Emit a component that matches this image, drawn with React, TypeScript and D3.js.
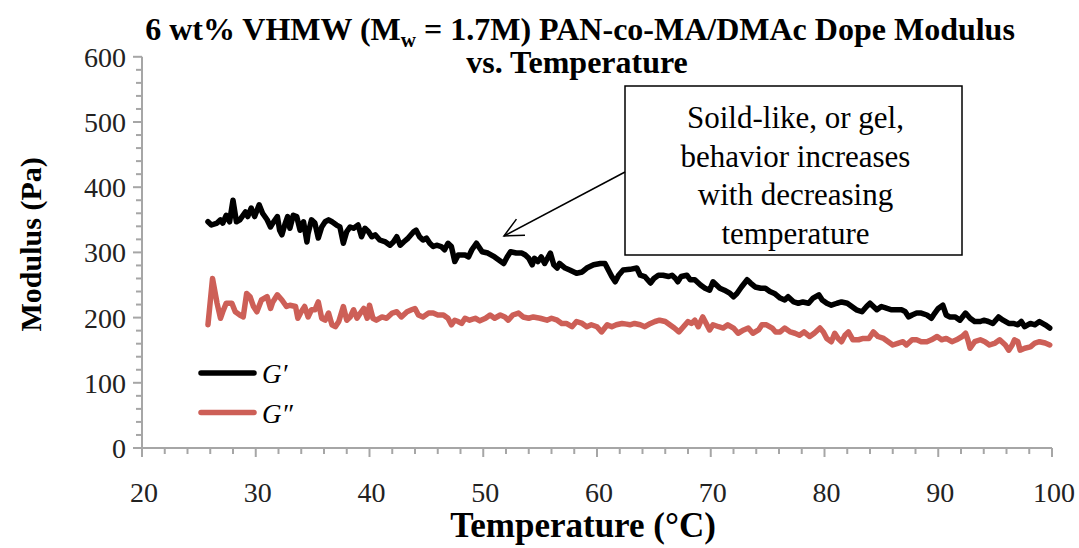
import React from "react";
import * as d3 from "d3";

const gT = [25.8,26.1,26.6,26.9,27.1,27.4,27.7,28.0,28.3,28.6,29.1,29.3,29.6,29.9,30.3,30.6,31.0,31.3,31.5,31.9,32.1,32.3,32.6,32.8,33.0,33.3,33.6,33.9,34.2,34.5,34.6,34.9,35.2,35.5,35.8,36.1,36.4,36.7,37.1,37.4,37.7,38.0,38.3,38.6,39.0,39.3,39.6,39.9,40.2,40.5,40.9,41.4,41.8,42.1,42.4,42.7,43.0,43.4,43.9,44.1,44.4,44.7,45.0,45.3,45.6,45.9,46.3,46.6,46.9,47.2,47.5,47.8,48.1,48.4,48.7,49.0,49.4,49.9,50.4,51.0,51.8,52.1,52.4,52.9,53.4,53.7,54.0,54.3,54.5,54.8,55.1,55.4,55.9,56.2,56.5,56.7,57.2,57.6,58.2,58.7,59.1,59.7,60.3,60.7,61.0,61.3,61.6,61.9,62.3,62.9,63.5,63.8,64.2,64.7,65.0,65.4,65.8,66.3,66.6,66.9,67.1,67.4,67.9,68.2,68.6,69.1,69.5,69.9,70.2,70.5,70.8,71.2,71.7,72.0,72.3,72.7,73.2,73.5,73.9,74.4,74.8,75.2,75.6,76.1,76.5,76.8,77.3,77.7,78.1,78.6,79.0,79.5,79.8,80.2,80.6,81.1,81.5,82.0,82.4,82.8,83.3,83.7,84.0,84.3,84.6,85.0,85.5,85.9,86.3,86.8,87.1,87.4,87.7,88.1,88.5,89.0,89.4,89.7,90.0,90.4,90.7,91.0,91.5,91.9,92.4,92.8,93.2,93.7,94.0,94.4,94.8,95.3,95.7,96.2,96.6,97.0,97.3,97.6,98.1,98.5,98.9,99.4,99.8];
const gPrime = [347,342,345,350,345,357,347,380,347,350,362,355,368,355,373,360,350,339,345,355,334,327,345,355,337,357,355,334,347,316,329,350,345,322,339,347,350,347,342,339,314,332,339,337,342,324,337,332,324,327,319,316,311,316,324,311,316,322,332,334,324,319,322,314,309,311,309,304,314,309,286,296,296,296,293,304,314,301,299,293,283,293,301,299,299,296,291,281,291,286,293,283,299,281,276,283,276,273,268,270,276,281,283,283,273,263,255,265,273,274,276,265,263,253,260,265,265,263,265,260,255,263,265,258,258,250,245,242,255,250,245,242,237,232,237,247,258,253,247,245,245,240,237,230,227,232,224,222,224,222,230,235,227,222,219,222,224,222,217,212,209,217,222,217,212,217,214,212,212,212,209,201,204,207,207,204,199,207,214,219,204,201,201,196,207,199,194,194,196,194,191,201,196,191,191,189,194,186,191,189,194,189,184];

const ggT = [25.8,26.2,26.6,26.9,27.1,27.4,27.9,28.2,28.6,28.9,29.2,29.5,29.8,30.1,30.5,31.0,31.3,31.5,31.9,32.3,32.7,33.0,33.5,33.7,34.0,34.3,34.6,34.9,35.2,35.5,35.8,36.1,36.4,36.7,37.0,37.3,37.7,38.0,38.3,38.6,38.9,39.2,39.5,39.8,40.0,40.3,40.6,41.1,41.5,42.0,42.4,42.8,43.3,43.7,44.0,44.3,44.7,45.2,45.6,46.0,46.5,46.9,47.2,47.5,47.8,48.1,48.4,48.8,49.3,49.7,50.2,50.6,51.0,51.5,51.9,52.2,52.6,53.1,53.5,54.0,54.4,55.0,55.6,56.0,56.5,56.9,57.3,57.8,58.2,58.7,59.1,59.5,60.0,60.4,60.9,61.3,61.7,62.2,62.6,62.9,63.3,63.8,64.2,64.7,65.1,65.5,66.0,66.4,66.8,67.2,67.6,68.0,68.3,68.6,68.9,69.3,69.6,69.9,70.2,70.7,71.1,71.5,72.0,72.4,72.9,73.3,73.7,74.2,74.5,74.9,75.4,75.7,76.1,76.5,77.0,77.4,77.8,78.2,78.7,79.1,79.6,79.9,80.2,80.6,80.9,81.2,81.5,81.8,82.1,82.5,83.0,83.4,83.9,84.3,84.7,85.2,85.6,86.0,86.5,86.9,87.2,87.7,88.1,88.5,89.0,89.4,89.9,90.3,90.7,91.2,91.6,92.1,92.4,92.6,92.8,93.2,93.7,94.1,94.5,95.0,95.4,95.9,96.2,96.5,96.7,97.0,97.2,97.6,98.1,98.5,98.9,99.4,99.8];
const gDouble = [189,260,222,199,209,222,222,209,204,201,237,232,217,209,227,232,214,224,235,227,217,219,217,199,209,217,201,212,212,224,199,196,207,189,186,194,217,196,201,212,199,207,214,199,219,199,196,201,199,207,209,201,209,212,214,204,201,207,207,204,204,199,189,196,194,191,199,196,199,195,199,204,199,204,201,196,204,207,201,199,201,199,196,199,196,191,191,186,194,191,186,189,186,178,189,186,189,191,190,189,191,189,186,191,194,196,194,189,184,178,186,194,191,196,186,201,191,181,189,186,184,189,184,176,181,184,176,181,189,189,184,178,178,184,178,176,173,178,171,176,184,178,168,163,176,168,163,173,178,166,166,168,168,178,171,168,163,158,161,163,158,166,166,163,163,166,171,166,168,163,166,171,176,166,153,163,166,163,158,161,166,158,150,158,166,163,150,153,155,161,163,161,158];

const xTicks = [20, 30, 40, 50, 60, 70, 80, 90, 100];
const yTicks = [0, 100, 200, 300, 400, 500, 600];
const annotationLines = ["Soild-like, or gel,", "behavior increases", "with decreasing", "temperature"];
const titleLine1 = "6 wt% VHMW (M";
const titleSub = "w";
const titleLine1b = " = 1.7M) PAN-co-MA/DMAc Dope Modulus";
const titleLine2 = "vs. Temperature";
const xTitle = "Temperature (°C)";
const yTitle = "Modulus (Pa)";
const legendLabels = ["G′", "G″"];

const RED = "#cd5f57";
const AXIS = "#a6a6a6";
const SERIF = "'Liberation Serif', 'Times New Roman', serif";

export default function App() {
  const W = 1079, H = 548;
  const x0 = 142, x1 = 1052, y0 = 448, y1 = 56.8;
  const x = d3.scaleLinear().domain([20, 100]).range([x0, x1]);
  const y = d3.scaleLinear().domain([0, 600]).range([y0, y1]);
  const line = d3.line<[number, number]>().x(d => x(d[0])).y(d => y(d[1])).curve(d3.curveLinear);
  const gData: [number, number][] = gT.map((t, i) => [t, gPrime[i]]);
  const ggData: [number, number][] = ggT.map((t, i) => [t, gDouble[i]]);
  const xMinor = d3.range(20, 100.01, 2);
  const yMinor = d3.range(0, 600.01, 20);

  const box = { x: 625, y: 86, w: 337, h: 169 };
  const arrowFrom = [625, 172], arrowTo = [504, 236];
  const ang = Math.atan2(arrowFrom[1] - arrowTo[1], arrowFrom[0] - arrowTo[0]);
  const wl = 21, wa = 0.45;
  const w1 = [arrowTo[0] + wl * Math.cos(ang + wa), arrowTo[1] + wl * Math.sin(ang + wa)];
  const w2 = [arrowTo[0] + wl * Math.cos(ang - wa), arrowTo[1] + wl * Math.sin(ang - wa)];

  return (
    <svg width={W} height={H} style={{ position: "absolute", left: 0, top: 0, background: "#fff" }} fontFamily={SERIF}>
      <rect x={0} y={0} width={W} height={H} fill="#fff" />
      {/* title */}
      <text x={580} y={40} textAnchor="middle" fontWeight="bold" fontSize={32} fill="#000">
        {titleLine1}
        <tspan fontSize={21} dy={7}>{titleSub}</tspan>
        <tspan dy={-7}>{titleLine1b}</tspan>
      </text>
      <text x={577} y={73} textAnchor="middle" fontWeight="bold" fontSize={32} fill="#000">{titleLine2}</text>

      {/* axes */}
      <line x1={x0} x2={x0} y1={y1} y2={y0} stroke={AXIS} strokeWidth={2} />
      <line x1={x0} x2={x1} y1={y0} y2={y0} stroke={AXIS} strokeWidth={2} />
      {xMinor.map(v => (
        <line key={"xm" + v} x1={x(v)} x2={x(v)} y1={y0} y2={y0 + (v % 10 === 0 ? 9 : 6)} stroke={AXIS} strokeWidth={2} />
      ))}
      {yMinor.map(v => (
        <line key={"ym" + v} x1={x0 - (v % 100 === 0 ? 9 : 6)} x2={x0} y1={y(v)} y2={y(v)} stroke={AXIS} strokeWidth={2} />
      ))}
      {xTicks.map(v => (
        <text key={"xt" + v} x={x(v) + 2} y={502} textAnchor="middle" fontSize={28} fill="#222">{v}</text>
      ))}
      {yTicks.map(v => (
        <text key={"yt" + v} x={126} y={y(v) + 10} textAnchor="end" fontSize={28} fill="#222">{v}</text>
      ))}
      <text x={583} y={537} textAnchor="middle" fontWeight="bold" fontSize={35} fill="#000">{xTitle}</text>
      <text transform={`translate(41,${y(300) - 8}) rotate(-90)`} textAnchor="middle" fontWeight="bold" fontSize={30} fill="#000">{yTitle}</text>

      {/* series */}
      <path d={line(ggData) || ""} fill="none" stroke={RED} strokeWidth={5.5} strokeLinejoin="round" strokeLinecap="round" />
      <path d={line(gData) || ""} fill="none" stroke="#000" strokeWidth={5.5} strokeLinejoin="round" strokeLinecap="round" />

      {/* legend */}
      <line x1={201} x2={254} y1={373} y2={373} stroke="#000" strokeWidth={5.5} strokeLinecap="round" />
      <text x={262} y={383} fontSize={27} fontStyle="italic" fill="#000">{legendLabels[0]}</text>
      <line x1={201} x2={254} y1={412.5} y2={412.5} stroke={RED} strokeWidth={5.5} strokeLinecap="round" />
      <text x={262} y={423} fontSize={27} fontStyle="italic" fill="#000">{legendLabels[1]}</text>

      {/* annotation */}
      <rect x={box.x} y={box.y} width={box.w} height={box.h} fill="#fff" stroke="#000" strokeWidth={1.5} />
      {annotationLines.map((s, i) => (
        <text key={s} x={box.x + box.w / 2 + 2} y={128 + i * 38.5} textAnchor="middle" fontSize={31} fill="#000">{s}</text>
      ))}
      <line x1={arrowFrom[0]} y1={arrowFrom[1]} x2={arrowTo[0]} y2={arrowTo[1]} stroke="#000" strokeWidth={1.5} />
      <polyline points={`${w1[0]},${w1[1]} ${arrowTo[0]},${arrowTo[1]} ${w2[0]},${w2[1]}`} fill="none" stroke="#000" strokeWidth={1.5} />
    </svg>
  );
}
